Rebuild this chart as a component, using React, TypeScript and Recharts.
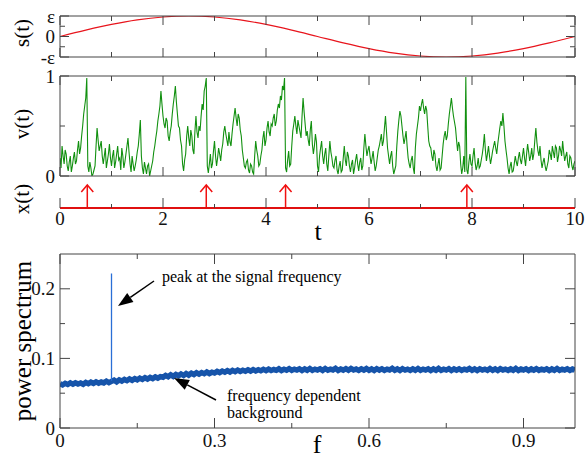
import { Line, LineChart, XAxis, YAxis } from 'recharts';

const FONT = '"Liberation Serif", "Times New Roman", serif';
const AXIS = '#444';
const W = 587;

// time axis (s, v, x panels)
const T_TICKS = [0, 1, 2, 3, 4, 5, 6, 7, 8, 9, 10];
const T_MAJOR = [0, 2, 4, 6, 8, 10];

// s(t): periodic signal, sampled every 0.5
const S_STEP = 0.5;
const S_VALUES = [
  0, 0.31, 0.59, 0.81, 0.95, 1, 0.95, 0.81, 0.59, 0.31, 0, -0.31, -0.59, -0.81, -0.95, -1, -0.95, -0.81,
  -0.59, -0.31, 0,
];

// v(t): noisy membrane variable, sampled every 0.02 (one row per time unit)
const V_STEP = 0.02;
const V_VALUES = [
  0.18, 0.08, 0.3, 0.2, 0.12, 0.26, 0.22, 0.1, 0.05, 0.14, 0.2, 0.04, 0.1, 0.18, 0.24, 0.12, 0.15, 0.26, 0.35, 0.22, 0.28, 0.4, 0.5, 0.62, 0.7,
  0.78, 0.98, 0.1, 0.04, 0.14, 0.08, 0.0, 0.02, 0.06, 0.1, 0.3, 0.48, 0.36, 0.25, 0.3, 0.35, 0.2, 0.12, 0.2, 0.28, 0.08, 0.15, 0.22, 0.32, 0.18,
  0.1, 0.2, 0.26, 0.08, 0.14, 0.22, 0.3, 0.16, 0.18, 0.06, 0.28, 0.2, 0.08, 0.14, 0.22, 0.3, 0.38, 0.24, 0.12, 0.04, 0.2, 0.12, 0.05, 0.1, 0.16,
  0.24, 0.3, 0.42, 0.56, 0.2, 0.08, 0.02, 0.14, 0.08, 0.02, 0.1, 0.12, 0.0, 0.05, 0.1, 0.15, 0.24, 0.3, 0.38, 0.45, 0.55, 0.62, 0.7, 0.85, 0.72,
  0.6, 0.52, 0.48, 0.58, 0.55, 0.4, 0.35, 0.44, 0.5, 0.62, 0.72, 0.8, 0.9, 0.74, 0.62, 0.5, 0.48, 0.36, 0.3, 0.12, 0.05, 0.16, 0.22, 0.4, 0.5,
  0.38, 0.3, 0.46, 0.4, 0.26, 0.22, 0.45, 0.6, 0.44, 0.38, 0.5, 0.45, 0.6, 0.72, 0.66, 0.85, 0.9, 0.98, 0.1, 0.03, 0.12, 0.22, 0.08, 0.12, 0.25,
  0.35, 0.2, 0.1, 0.18, 0.28, 0.22, 0.15, 0.26, 0.32, 0.44, 0.5, 0.42, 0.36, 0.3, 0.44, 0.34, 0.3, 0.42, 0.52, 0.6, 0.68, 0.58, 0.5, 0.62, 0.58,
  0.46, 0.4, 0.26, 0.18, 0.1, 0.08, 0.14, 0.16, 0.06, 0.03, 0.12, 0.1, 0.04, 0.02, 0.2, 0.35, 0.26, 0.2, 0.1, 0.12, 0.2, 0.26, 0.38, 0.45, 0.3,
  0.36, 0.48, 0.55, 0.44, 0.4, 0.52, 0.5, 0.58, 0.62, 0.5, 0.55, 0.66, 0.72, 0.68, 0.8, 0.76, 0.9, 0.86, 0.98, 0.08, 0.04, 0.16, 0.25, 0.1, 0.12,
  0.3, 0.45, 0.52, 0.6, 0.5, 0.42, 0.56, 0.5, 0.44, 0.38, 0.6, 0.78, 0.64, 0.52, 0.4, 0.45, 0.36, 0.3, 0.46, 0.55, 0.32, 0.22, 0.3, 0.42, 0.34,
  0.1, 0.04, 0.2, 0.28, 0.35, 0.2, 0.12, 0.22, 0.28, 0.12, 0.05, 0.2, 0.35, 0.24, 0.18, 0.1, 0.08, 0.16, 0.2, 0.06, 0.02, 0.1, 0.15, 0.04, 0.06,
  0.18, 0.3, 0.16, 0.1, 0.24, 0.2, 0.1, 0.04, 0.12, 0.16, 0.02, 0.08, 0.16, 0.22, 0.12, 0.05, 0.14, 0.18, 0.06, 0.1, 0.28, 0.42, 0.3, 0.2, 0.26,
  0.3, 0.2, 0.12, 0.18, 0.25, 0.14, 0.05, 0.1, 0.18, 0.26, 0.3, 0.36, 0.42, 0.3, 0.35, 0.48, 0.6, 0.44, 0.28, 0.2, 0.12, 0.2, 0.25, 0.1, 0.02,
  0.06, 0.1, 0.3, 0.45, 0.56, 0.65, 0.6, 0.5, 0.4, 0.32, 0.38, 0.45, 0.3, 0.18, 0.12, 0.08, 0.16, 0.2, 0.08, 0.02, 0.28, 0.42, 0.5, 0.58, 0.7,
  0.65, 0.72, 0.77, 0.68, 0.62, 0.7, 0.66, 0.5, 0.35, 0.3, 0.28, 0.2, 0.15, 0.26, 0.22, 0.1, 0.05, 0.12, 0.18, 0.06, 0.08, 0.2, 0.32, 0.4, 0.45,
  0.36, 0.4, 0.52, 0.62, 0.7, 0.78, 0.68, 0.6, 0.54, 0.48, 0.36, 0.25, 0.34, 0.3, 0.12, 0.02, 0.08, 0.2, 0.04, 0.99, 0.06, 0.02, 0.14, 0.22, 0.12,
  0.1, 0.2, 0.28, 0.14, 0.06, 0.1, 0.18, 0.08, 0.1, 0.16, 0.22, 0.3, 0.42, 0.26, 0.15, 0.22, 0.3, 0.2, 0.12, 0.18, 0.25, 0.3, 0.35, 0.28, 0.22,
  0.32, 0.4, 0.48, 0.55, 0.5, 0.63, 0.5, 0.35, 0.26, 0.18, 0.08, 0.02, 0.1, 0.14, 0.04, 0.05, 0.12, 0.2, 0.14, 0.1, 0.18, 0.24, 0.16, 0.12, 0.2,
  0.28, 0.18, 0.1, 0.22, 0.32, 0.24, 0.15, 0.2, 0.28, 0.16, 0.22, 0.36, 0.48, 0.34, 0.25, 0.2, 0.3, 0.16, 0.08, 0.14, 0.18, 0.1, 0.05, 0.1, 0.15,
  0.26, 0.22, 0.16, 0.3, 0.24, 0.18, 0.3, 0.28, 0.14, 0.2, 0.3, 0.26, 0.2, 0.35, 0.24, 0.15, 0.2, 0.24, 0.12, 0.08, 0.2, 0.18, 0.1, 0.06, 0.12,
  0.15,
];

// x(t): spike times
const SPIKE_TIMES = [0.53, 2.84, 4.38, 7.9];

// power spectrum, sampled every 0.005 in f
const F_STEP = 0.005;
const F_TICKS = [0, 0.15, 0.3, 0.45, 0.6, 0.75, 0.9];
const F_MAJOR = [0, 0.3, 0.6, 0.9];
const P_TICKS = [0, 0.05, 0.1, 0.15, 0.2];
const P_MAJOR = [0, 0.1, 0.2];
const SPECTRUM = [
  0.0635, 0.0618, 0.0642, 0.0625, 0.0648, 0.0629, 0.065, 0.0632, 0.0646, 0.0628, 0.0654, 0.0636, 0.0658, 0.064, 0.0662, 0.0643, 0.066, 0.0648, 0.0672, 0.0651,
  0.067, 0.0688, 0.0664, 0.0692, 0.0675, 0.0698, 0.068, 0.0704, 0.0686, 0.071, 0.0692, 0.0715, 0.0698, 0.0722, 0.0703, 0.0726, 0.071, 0.0734, 0.0717, 0.0738,
  0.073, 0.0756, 0.0736, 0.0764, 0.0742, 0.0768, 0.075, 0.0776, 0.0754, 0.0782, 0.076, 0.0786, 0.0768, 0.0794, 0.0774, 0.0796, 0.078, 0.0804, 0.0783, 0.0802,
  0.079, 0.0814, 0.0796, 0.0818, 0.0802, 0.0824, 0.0804, 0.0828, 0.081, 0.0832, 0.0812, 0.083, 0.0816, 0.0836, 0.0818, 0.084, 0.082, 0.0838, 0.0822, 0.0842,
  0.0824, 0.0846, 0.0826, 0.084, 0.0828, 0.085, 0.0826, 0.0844, 0.083, 0.0852, 0.0828, 0.0846, 0.0832, 0.085, 0.0826, 0.0848, 0.083, 0.0854, 0.0828, 0.0846,
  0.0832, 0.085, 0.0828, 0.0854, 0.083, 0.0846, 0.0834, 0.0856, 0.0828, 0.0848, 0.0832, 0.0852, 0.083, 0.0856, 0.0834, 0.0848, 0.0828, 0.085, 0.0832, 0.0854,
  0.083, 0.0848, 0.0826, 0.0852, 0.0832, 0.085, 0.0828, 0.0846, 0.0834, 0.0858, 0.083, 0.0848, 0.0826, 0.0852, 0.0832, 0.0846, 0.0828, 0.085, 0.083, 0.0854,
  0.0828, 0.0846, 0.0832, 0.085, 0.0826, 0.0848, 0.083, 0.0856, 0.0828, 0.0844, 0.0832, 0.0852, 0.0826, 0.0848, 0.083, 0.085, 0.0828, 0.0846, 0.0834, 0.0854,
  0.083, 0.0848, 0.0826, 0.085, 0.0832, 0.0846, 0.0828, 0.0854, 0.083, 0.0848, 0.0826, 0.0852, 0.0834, 0.0846, 0.0828, 0.085, 0.083, 0.0856, 0.0828, 0.0848,
  0.0832, 0.085, 0.0826, 0.0848, 0.083, 0.0852, 0.0828, 0.0846, 0.0834, 0.085, 0.0826, 0.0848, 0.083, 0.0854, 0.0828, 0.0846, 0.0832, 0.085, 0.0828, 0.0848, 0.0834,
];
const PEAK_F = 0.1;
const PEAK_RANGE = [0.068, 0.222];

const sData = S_VALUES.map((s, i) => ({ t: i * S_STEP, s }));
const vData = V_VALUES.map((v, i) => ({ t: +(i * V_STEP).toFixed(2), v }));
const psData = SPECTRUM.map((p, i) => ({ f: +(i * F_STEP).toFixed(3), p }));
const peakData = PEAK_RANGE.map((p) => ({ f: PEAK_F, p }));

type Side = 'left' | 'right' | 'top' | 'bottom';

// inward ticks, longer on the major values, labels only on labelled axes
function frameTick(
  side: Side,
  major: number[],
  majorLen: number,
  minorLen: number,
  fmt?: (v: number) => string,
  labelGap = 17,
) {
  return (props: any) => {
    const { x, y, payload } = props;
    const v = payload.value as number;
    const isMajor = major.some((m) => Math.abs(m - v) < 1e-9);
    const len = isMajor ? majorLen : minorLen;
    const dx = side === 'left' ? len : side === 'right' ? -len : 0;
    const dy = side === 'top' ? len : side === 'bottom' ? -len : 0;
    let label = null;
    if (fmt && isMajor) {
      label =
        side === 'left' ? (
          <text x={x - 5} y={y} textAnchor="end" dominantBaseline="central" fontSize={19} fontFamily={FONT} fill="#111">
            {fmt(v)}
          </text>
        ) : (
          <text x={x} y={y + labelGap} textAnchor="middle" fontSize={19} fontFamily={FONT} fill="#111">
            {fmt(v)}
          </text>
        );
    }
    return (
      <g>
        <line x1={x} y1={y} x2={x + dx} y2={y + dy} stroke={AXIS} strokeWidth={1} />
        {label}
      </g>
    );
  };
}

// axes are 1px thick so that they are drawn; ticks are all custom
const axisCommon = {
  tickSize: 0,
  tickMargin: 0,
  tickLine: false,
  interval: 0 as const,
  axisLine: { stroke: AXIS, strokeWidth: 1 },
  allowDataOverflow: true,
};

const CHART_STYLE = { fontFamily: FONT };

function SignalPanel() {
  return (
    <LineChart width={W} height={70} data={sData} style={CHART_STYLE} margin={{ top: 15, right: 11, bottom: 12, left: 59 }}>
      <XAxis xAxisId="b" type="number" dataKey="t" domain={[0, 10]} ticks={T_TICKS} height={1} {...axisCommon} tick={frameTick('bottom', T_MAJOR, 9, 5)} />
      <XAxis xAxisId="t" orientation="top" type="number" dataKey="t" domain={[0, 10]} ticks={T_TICKS} height={1} {...axisCommon} tick={frameTick('top', T_MAJOR, 9, 5)} />
      <YAxis yAxisId="l" type="number" domain={[-1, 1]} ticks={[-1, -0.5, 0, 0.5, 1]} width={1} {...axisCommon}
        tick={frameTick('left', [-1, 0, 1], 9, 5, (v) => (v === 1 ? 'ε' : v === -1 ? '-ε' : '0'))} />
      <YAxis yAxisId="r" orientation="right" type="number" domain={[-1, 1]} ticks={[-1, -0.5, 0, 0.5, 1]} width={1} {...axisCommon}
        tick={frameTick('right', [-1, 0, 1], 9, 5)} />
      <Line xAxisId="b" yAxisId="l" type="monotone" dataKey="s" stroke="#e8141c" strokeWidth={1.2} dot={false} isAnimationActive={false} />
    </LineChart>
  );
}

function VoltagePanel() {
  return (
    <LineChart width={W} height={130} data={vData} style={CHART_STYLE} margin={{ top: 15, right: 11, bottom: 13, left: 59 }}>
      <XAxis xAxisId="b" type="number" dataKey="t" domain={[0, 10]} ticks={T_TICKS} height={1} {...axisCommon} tick={frameTick('bottom', T_MAJOR, 9, 5)} />
      <XAxis xAxisId="t" orientation="top" type="number" dataKey="t" domain={[0, 10]} ticks={T_TICKS} height={1} {...axisCommon} tick={frameTick('top', T_MAJOR, 9, 5)} />
      <YAxis yAxisId="l" type="number" domain={[0, 1]} ticks={[0, 0.5, 1]} width={1} {...axisCommon}
        tick={frameTick('left', [0, 1], 9, 5, (v) => String(v))} />
      <YAxis yAxisId="r" orientation="right" type="number" domain={[0, 1]} ticks={[0, 0.5, 1]} width={1} {...axisCommon}
        tick={frameTick('right', [0, 1], 9, 5)} />
      <Line xAxisId="b" yAxisId="l" type="linear" dataKey="v" stroke="#11900f" strokeWidth={1.1} dot={false} isAnimationActive={false} />
    </LineChart>
  );
}

function arrowHead(props: any) {
  const { cx, cy, index } = props;
  if (index !== 1) return <g key={`d${index}`} />;
  return (
    <path key={`d${index}`} d={`M${cx - 6},${cy + 7} L${cx},${cy} L${cx + 6},${cy + 7}`} fill="none" stroke="#f01010" strokeWidth={1.5} />
  );
}

function SpikePanel() {
  return (
    <LineChart width={W} height={80} style={CHART_STYLE} margin={{ top: 15, right: 12, bottom: 41, left: 60 }}>
      <XAxis xAxisId="b" type="number" dataKey="t" domain={[0, 10]} ticks={T_TICKS} height={1} {...axisCommon}
        axisLine={{ stroke: '#e01010', strokeWidth: 2 }}
        tick={frameTick('bottom', T_MAJOR, 10, 4, (v) => String(v), 17)} />
      <YAxis yAxisId="l" type="number" domain={[0, 1]} hide />
      {SPIKE_TIMES.map((t) => (
        <Line
          key={t}
          xAxisId="b"
          yAxisId="l"
          data={[{ t, x: 0 }, { t, x: 1 }]}
          dataKey="x"
          type="linear"
          stroke="#f01010"
          strokeWidth={1.5}
          dot={arrowHead}
          activeDot={false}
          isAnimationActive={false}
        />
      ))}
    </LineChart>
  );
}

function SpectrumPanel() {
  return (
    <LineChart width={W} height={218} style={CHART_STYLE} margin={{ top: 13, right: 11, bottom: 29, left: 59 }}>
      <XAxis xAxisId="b" type="number" dataKey="f" domain={[0, 1]} ticks={F_TICKS} height={1} {...axisCommon}
        tick={frameTick('bottom', F_MAJOR, 10, 5, (v) => String(v), 19)} />
      <XAxis xAxisId="t" orientation="top" type="number" dataKey="f" domain={[0, 1]} ticks={F_TICKS} height={1} {...axisCommon}
        tick={frameTick('top', F_MAJOR, 10, 5)} />
      <YAxis yAxisId="l" type="number" domain={[0, 0.25]} ticks={P_TICKS} width={1} {...axisCommon}
        tick={frameTick('left', P_MAJOR, 10, 5, (v) => String(v))} />
      <YAxis yAxisId="r" orientation="right" type="number" domain={[0, 0.25]} ticks={P_TICKS} width={1} {...axisCommon}
        tick={frameTick('right', P_MAJOR, 10, 5)} />
      <Line xAxisId="b" yAxisId="l" data={psData} type="linear" dataKey="p" stroke="#1654aa" strokeWidth={5.5} dot={false} isAnimationActive={false} />
      <Line xAxisId="b" yAxisId="l" data={peakData} type="linear" dataKey="p" stroke="#2a6fd6" strokeWidth={1.3} dot={false} isAnimationActive={false} />
    </LineChart>
  );
}

function Arrow({ x1, y1, x2, y2 }: { x1: number; y1: number; x2: number; y2: number }) {
  const a = Math.atan2(y2 - y1, x2 - x1);
  const len = 15;
  const hw = 5.5;
  const bx = x2 - len * Math.cos(a);
  const by = y2 - len * Math.sin(a);
  const px = -Math.sin(a) * hw;
  const py = Math.cos(a) * hw;
  return (
    <g>
      <line x1={x1} y1={y1} x2={bx} y2={by} stroke="#000" strokeWidth={1.5} />
      <polygon points={`${x2},${y2} ${bx + px},${by + py} ${bx - px},${by - py}`} fill="#000" />
    </g>
  );
}

function Overlay() {
  const rot = (x: number, y: number) => `rotate(-90 ${x} ${y})`;
  return (
    <svg width={W} height={458} style={{ position: 'absolute', left: 0, top: 0, pointerEvents: 'none' }} fontFamily={FONT}>
      <text x={22} y={33} transform={rot(22, 33)} textAnchor="middle" dominantBaseline="central" fontSize={21}>s(t)</text>
      <text x={22} y={124} transform={rot(22, 124)} textAnchor="middle" dominantBaseline="central" fontSize={21}>v(t)</text>
      <text x={22} y={199} transform={rot(22, 199)} textAnchor="middle" dominantBaseline="central" fontSize={21}>x(t)</text>
      <text x={318} y={240} textAnchor="middle" fontSize={26}>t</text>
      <text x={22} y={341} transform={rot(22, 341)} textAnchor="middle" dominantBaseline="central" fontSize={25}>power spectrum</text>
      <text x={317} y={453} textAnchor="middle" fontSize={26}>f</text>
      <text x={162} y={282} fontSize={16}>peak at the signal frequency</text>
      <Arrow x1={154} y1={281} x2={118} y2={306} />
      <text x={227} y={401} fontSize={16}>frequency dependent</text>
      <text x={227} y={418} fontSize={16}>background</text>
      <Arrow x1={216} y1={400} x2={174} y2={378} />
    </svg>
  );
}

export default function App() {
  return (
    <div style={{ position: 'absolute', left: 0, top: 0, width: W, height: 458, background: '#fff', overflow: 'hidden', fontFamily: FONT }}>
      <div style={{ position: 'absolute', left: 0, top: 0 }}>
        <SignalPanel />
      </div>
      <div style={{ position: 'absolute', left: 0, top: 60 }}>
        <VoltagePanel />
      </div>
      <div style={{ position: 'absolute', left: 0, top: 170 }}>
        <SpikePanel />
      </div>
      <div style={{ position: 'absolute', left: 0, top: 240 }}>
        <SpectrumPanel />
      </div>
      <Overlay />
    </div>
  );
}
